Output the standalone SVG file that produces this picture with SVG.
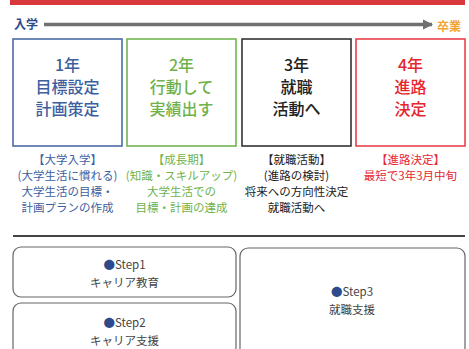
<svg xmlns="http://www.w3.org/2000/svg" width="469" height="349" viewBox="0 0 469 349">
<style>
text{font-family:"Noto Sans CJK JP","Noto Sans",sans-serif;text-anchor:middle}
.big{font-size:16px;font-weight:500}
.sm{font-size:11.5px}
.step{font-size:11.5px;fill:#444}
.blue{fill:#3d5f9f}
.green{fill:#6fb24c}
.black{fill:#222}
.red{fill:#e6262e}
.yb{fill:none;stroke-width:1.6}
.rb{fill:#fff;stroke:#666;stroke-width:1.2}
.dot{fill:#2d4b8c}
</style>
<defs>
<marker id="ah" viewBox="0 0 10 10" refX="9" refY="5" markerWidth="3" markerHeight="3" orient="auto">
<path d="M0,0 L10,5 L0,10 z" fill="#707070"/>
</marker>
</defs>
<rect width="469" height="349" fill="#fff"/>
<rect x="10" y="0" width="455" height="5" fill="#d8373b"/>
<text x="26" y="29" style="font-size:12px;font-weight:bold;fill:#2b4a8a">入学</text>
<text x="449" y="31" style="font-size:12px;font-weight:bold;fill:#f2a535">卒業</text>
<g id="connectors">
<line x1="44" y1="24.5" x2="432" y2="24.5" stroke="#707070" stroke-width="3.5" marker-end="url(#ah)"/>
<line x1="13" y1="236" x2="465" y2="236" stroke="#444" stroke-width="2"/>
</g>
<g id="year1">
<rect class="yb" x="13" y="39" width="109" height="107" stroke="#4a6aa6"/>
<text class="big blue" x="67.5" y="71">1年</text>
<text class="big blue" x="67.5" y="93">目標設定</text>
<text class="big blue" x="67.5" y="115">計画策定</text>
<text class="sm blue" x="67.5" y="164">【大学入学】</text>
<text class="sm blue" x="67.5" y="180">(大学生活に慣れる)</text>
<text class="sm blue" x="67.5" y="196">大学生活の目標・</text>
<text class="sm blue" x="67.5" y="212">計画プランの作成</text>
</g>
<g id="year2">
<rect class="yb" x="127" y="39" width="109" height="107" stroke="#72b550"/>
<text class="big green" x="181.5" y="71">2年</text>
<text class="big green" x="181.5" y="93">行動して</text>
<text class="big green" x="181.5" y="115">実績出す</text>
<text class="sm green" x="181.5" y="164">【成長期】</text>
<text class="sm green" x="181.5" y="180">(知識・スキルアップ)</text>
<text class="sm green" x="181.5" y="196">大学生活での</text>
<text class="sm green" x="181.5" y="212">目標・計画の達成</text>
</g>
<g id="year3">
<rect class="yb" x="242" y="39" width="109" height="107" stroke="#333"/>
<text class="big black" x="296.5" y="71">3年</text>
<text class="big black" x="296.5" y="93">就職</text>
<text class="big black" x="296.5" y="115">活動へ</text>
<text class="sm black" x="296.5" y="164">【就職活動】</text>
<text class="sm black" x="296.5" y="180">(進路の検討)</text>
<text class="sm black" x="296.5" y="196">将来への方向性決定</text>
<text class="sm black" x="296.5" y="212">就職活動へ</text>
</g>
<g id="year4">
<rect class="yb" x="356" y="39" width="109" height="107" stroke="#e8434a"/>
<text class="big red" x="410.5" y="71">4年</text>
<text class="big red" x="410.5" y="93">進路</text>
<text class="big red" x="410.5" y="115">決定</text>
<text class="sm red" x="410.5" y="164">【進路決定】</text>
<text class="sm red" x="410.5" y="180">最短で3年3月中旬</text>
</g>
<g id="step1">
<rect class="rb" x="13" y="247" width="223" height="50" rx="8"/>
<text class="step" x="124.5" y="269"><tspan class="dot">●</tspan>Step1</text>
<text class="step" x="124.5" y="287">キャリア教育</text>
</g>
<g id="step2">
<rect class="rb" x="13" y="303" width="223" height="60" rx="8"/>
<text class="step" x="124.5" y="327"><tspan class="dot">●</tspan>Step2</text>
<text class="step" x="124.5" y="345">キャリア支援</text>
</g>
<g id="step3">
<rect class="rb" x="240" y="248" width="225" height="115" rx="8"/>
<text class="step" x="352" y="296"><tspan class="dot">●</tspan>Step3</text>
<text class="step" x="352" y="314">就職支援</text>
</g>
</svg>
